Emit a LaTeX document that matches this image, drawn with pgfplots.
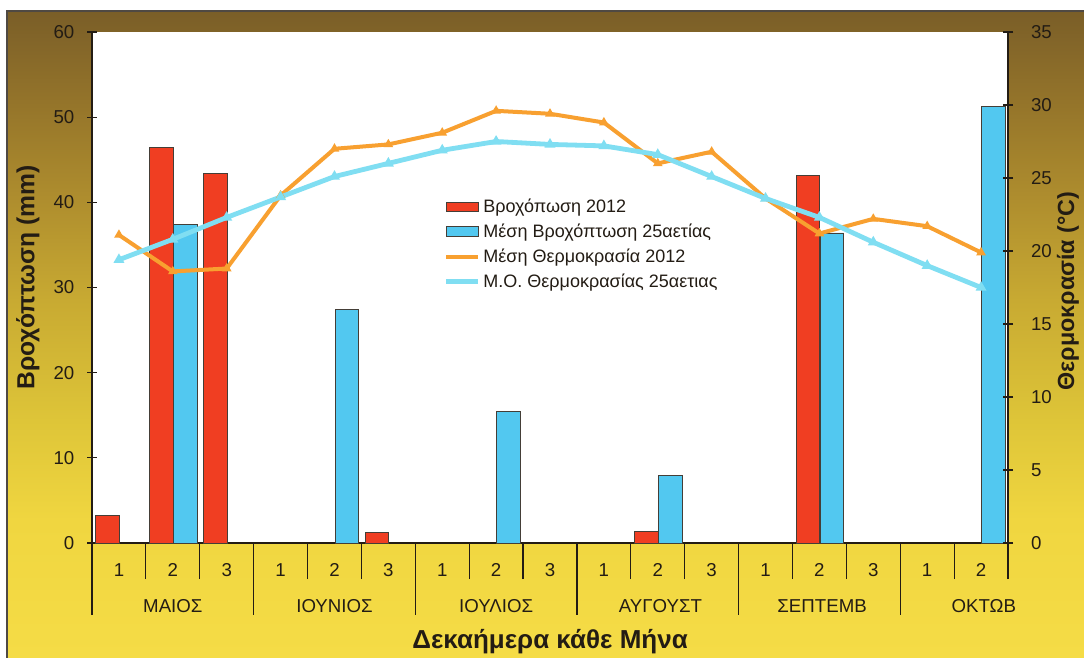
\documentclass[border=0pt]{standalone}
\usepackage{fontspec}
\setmainfont{Liberation Sans}
\usepackage{pgfplots}
\pgfplotsset{compat=1.18}

\definecolor{rainred}{RGB}{240,62,34}
\definecolor{rainblue}{RGB}{82,200,240}
\definecolor{tempor}{RGB}{248,160,48}
\definecolor{tempcy}{RGB}{128,222,242}
\definecolor{ink}{RGB}{35,28,20}
\definecolor{bgA}{RGB}{122,94,40}
\definecolor{bgB}{RGB}{148,116,42}
\definecolor{bgC}{RGB}{175,142,46}
\definecolor{bgD}{RGB}{200,170,50}
\definecolor{bgE}{RGB}{222,197,56}
\definecolor{bgF}{RGB}{240,214,64}
\definecolor{bgG}{RGB}{245,220,70}
\pgfdeclareverticalshading{bgshade}{100bp}{color(0bp)=(bgG); color(25bp)=(bgG); color(35.6bp)=(bgF); color(43.3bp)=(bgE); color(52.6bp)=(bgD); color(60.3bp)=(bgC); color(68bp)=(bgB); color(75bp)=(bgA); color(100bp)=(bgA)}

\begin{document}
\begin{tikzpicture}
\path[use as bounding box] (-69pt,-85.5pt) rectangle (744pt,407.25pt);
\shade[shading=bgshade] (-63.75pt,-86pt) rectangle (745pt,399pt);
\draw[ink!80, line width=1pt] (-63.75pt,-90pt) -- (-63.75pt,399pt) -- (750pt,399pt);

\begin{axis}[
  at={(0pt,0pt)}, anchor=south west,
  scale only axis, width=687pt, height=383.25pt,
  xmin=-0.5, xmax=16.5, ymin=0, ymax=60,
  clip=false,
  axis x line*=bottom, axis y line*=left,
  axis line style={line width=1pt, draw=ink},
  axis background/.style={fill=white},
  /pgf/number format/assume math mode=true,
  ytick={0,10,...,60},
  tick align=center,
  major tick length=7.5pt,
  ytick style={line width=0.9pt, draw=ink},
  yticklabel style={font=\fontsize{14}{16}\selectfont, text=ink, xshift=-6pt},
  xtick={0,...,16},
  xticklabels={1,2,3,1,2,3,1,2,3,1,2,3,1,2,3,1,2},
  xtick style={draw=none},
  xticklabel style={font=\fontsize{14}{16}\selectfont, text=ink, yshift=-8pt},
  extra x ticks={-0.5,0.5,1.5,2.5,3.5,4.5,5.5,6.5,7.5,8.5,9.5,10.5,11.5,12.5,13.5,14.5,15.5,16.5},
  extra x tick labels={},
  extra x tick style={xtick style={draw=ink, line width=0.9pt}, tick align=outside, major tick length=27pt},
  ylabel={Βροχόπτωση (mm)},
  every axis y label/.style={at={(axis description cs:-0.0699,0.52)}, rotate=90, anchor=center, font=\fontsize{18.5}{21}\selectfont\bfseries, text=ink},
  xlabel={Δεκαήμερα κάθε Μήνα},
  every axis x label/.style={at={(axis description cs:0.5,0)}, anchor=center, yshift=-74pt, font=\fontsize{19.5}{22}\selectfont\bfseries, text=ink},
]
\addplot[ybar, bar width=17.6pt, bar shift=-8.6pt, fill=rainred, draw=ink!85, line width=0.7pt]
  coordinates {(0,3.2) (1,46.4) (2,43.4) (5,1.2) (10,1.3) (13,43.1)};
\addplot[ybar, bar width=17.6pt, bar shift=9.4pt, fill=rainblue, draw=ink!85, line width=0.7pt]
  coordinates {(1,37.4) (4,27.4) (7,15.4) (10,7.9) (13,36.4) (16,51.3)};
\draw[ink, line width=0.9pt] (axis cs:-0.5,0) -- ++(0pt,-54pt);
\draw[ink, line width=0.9pt] (axis cs:2.5,0) -- ++(0pt,-54pt);
\draw[ink, line width=0.9pt] (axis cs:5.5,0) -- ++(0pt,-54pt);
\draw[ink, line width=0.9pt] (axis cs:8.5,0) -- ++(0pt,-54pt);
\draw[ink, line width=0.9pt] (axis cs:11.5,0) -- ++(0pt,-54pt);
\draw[ink, line width=0.9pt] (axis cs:14.5,0) -- ++(0pt,-54pt);
\node[font=\fontsize{14}{16}\selectfont, text=ink] at ([yshift=-47pt]axis cs:1,0) {ΜΑΙΟΣ};
\node[font=\fontsize{14}{16}\selectfont, text=ink] at ([yshift=-47pt]axis cs:4,0) {ΙΟΥΝΙΟΣ};
\node[font=\fontsize{14}{16}\selectfont, text=ink] at ([yshift=-47pt]axis cs:7,0) {ΙΟΥΛΙΟΣ};
\node[font=\fontsize{14}{16}\selectfont, text=ink] at ([yshift=-47pt]axis cs:10.05,0) {ΑΥΓΟΥΣΤ};
\node[font=\fontsize{14}{16}\selectfont, text=ink] at ([yshift=-47pt]axis cs:13.05,0) {ΣΕΠΤΕΜΒ};
\node[font=\fontsize{14}{16}\selectfont, text=ink] at ([yshift=-47pt]axis cs:16.05,0) {ΟΚΤΩΒ};
\end{axis}

\begin{axis}[
  at={(0pt,0pt)}, anchor=south west,
  scale only axis, width=687pt, height=383.25pt,
  xmin=-0.5, xmax=16.5, ymin=0, ymax=35,
  clip=false,
  axis x line=none, axis y line*=right,
  axis line style={line width=1pt, draw=ink},
  /pgf/number format/assume math mode=true,
  ytick={0,5,...,35},
  tick align=center,
  major tick length=7.5pt,
  ytick style={line width=0.9pt, draw=ink},
  yticklabel style={font=\fontsize{14}{16}\selectfont, text=ink, xshift=10pt},
  ylabel={Θερμοκρασία (°C)},
  every axis y label/.style={at={(axis description cs:1.0655,0.493)}, rotate=90, anchor=center, font=\fontsize{17.5}{20}\selectfont\bfseries, text=ink},
  legend style={at={(axis description cs:0.381,0.684)}, anchor=north west, draw=none, fill=none,
    font=\fontsize{13.5}{15}\selectfont, text=ink, row sep=3pt, inner sep=2pt,
    cells={anchor=west}},
  legend cell align=left,
]
\addlegendimage{legend image code/.code={\draw[fill=rainred, draw=ink!85, line width=0.7pt] (0pt,-3.6pt) rectangle (24pt,3.6pt);}}
\addlegendimage{legend image code/.code={\draw[fill=rainblue, draw=ink!85, line width=0.7pt] (0pt,-3.6pt) rectangle (24pt,3.6pt);}}
\addplot[tempor, line width=3pt, mark=triangle*, mark size=1.2pt,
  legend image code/.code={\draw[tempor, line width=3pt] (0pt,0pt) -- (24pt,0pt);}]
  coordinates {(0,21.1) (1,18.6) (2,18.8) (3,23.8) (4,27.0) (5,27.3) (6,28.1) (7,29.6) (8,29.4) (9,28.8) (10,26.0) (11,26.8) (12,23.6) (13,21.2) (14,22.2) (15,21.7) (16,19.9)};
\addplot[tempcy, line width=3.6pt, mark=triangle*, mark size=1.2pt,
  legend image code/.code={\draw[tempcy, line width=3.6pt] (0pt,0pt) -- (24pt,0pt);}]
  coordinates {(0,19.4) (1,20.8) (2,22.3) (3,23.7) (4,25.1) (5,26.0) (6,26.9) (7,27.5) (8,27.3) (9,27.2) (10,26.6) (11,25.1) (12,23.6) (13,22.3) (14,20.6) (15,19.0) (16,17.5)};
\legend{Βροχόπωση 2012, Μέση Βροχόπτωση 25αετίας, Μέση Θερμοκρασία 2012, Μ.Ο. Θερμοκρασίας 25αετιας}
\end{axis}
\end{tikzpicture}
\end{document}
